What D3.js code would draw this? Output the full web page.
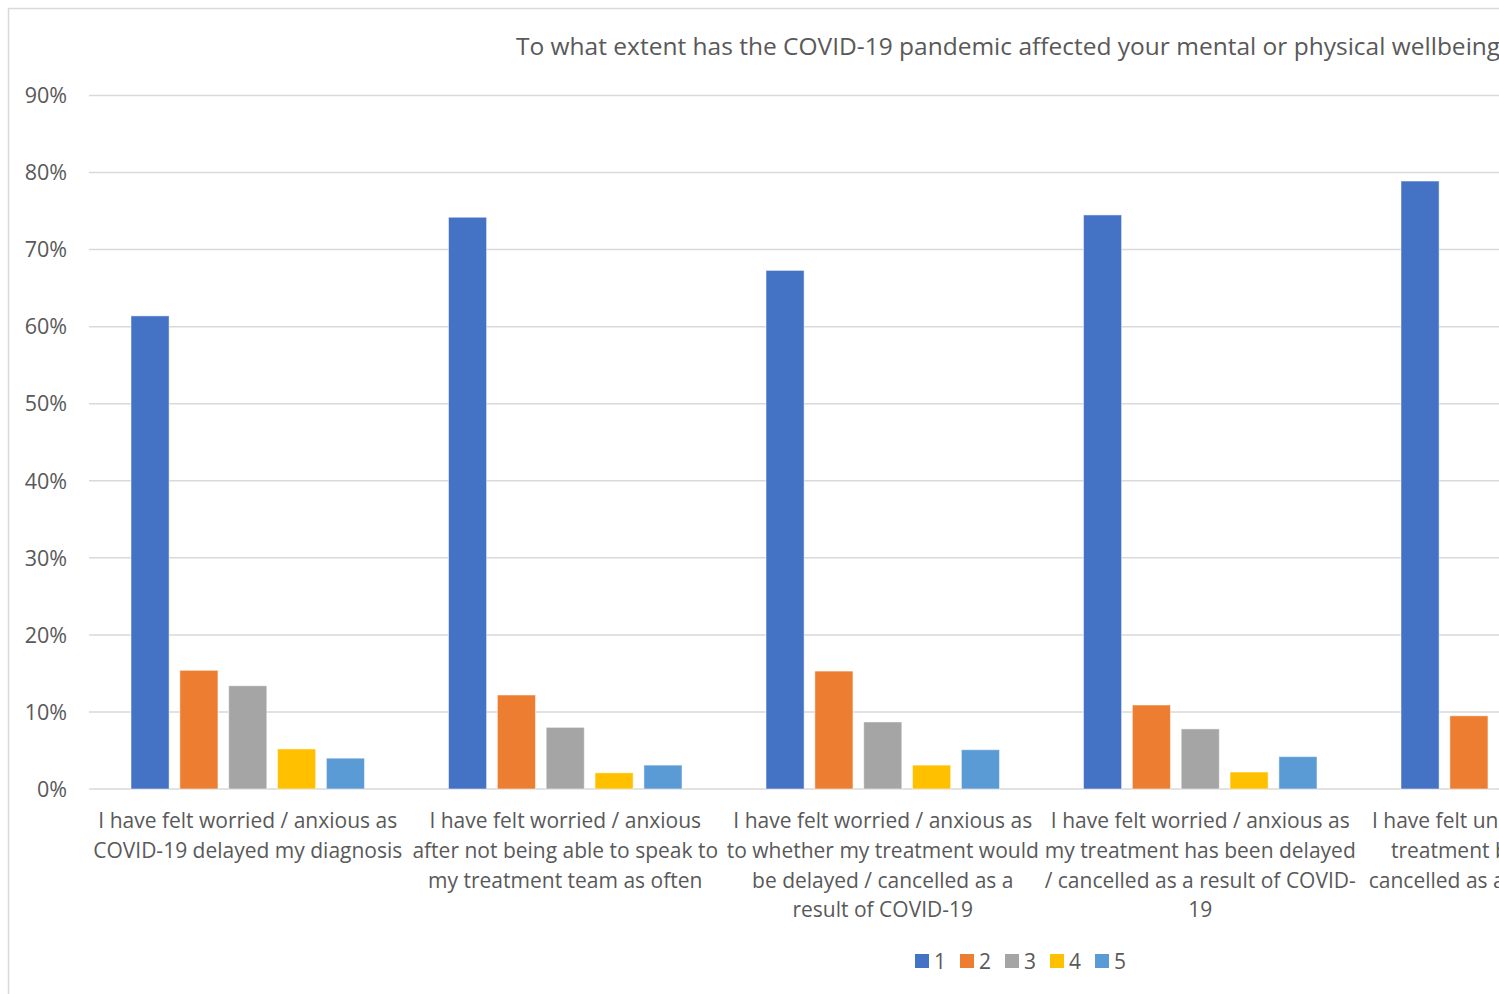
<!DOCTYPE html>
<html>
<head>
<meta charset="utf-8">
<script src="https://cdn.jsdelivr.net/npm/d3@7"></script>
<style>
  body { margin: 0; background: #fff; }
  text { font-family: "Open Sans", "Noto Sans", sans-serif; fill: #595959; }
</style>
</head>
<body>
<div id="chart"></div>
<script>
// Data
var categories = ["c1", "c2", "c3", "c4", "c5"];
var categoryLines = [
    ["I have felt worried / anxious as", "COVID-19 delayed my diagnosis"],
    ["I have felt worried / anxious", "after not being able to speak to", "my treatment team as often"],
    ["I have felt worried / anxious as", "to whether my treatment would", "be delayed / cancelled as a", "result of COVID-19"],
    ["I have felt worried / anxious as", "my treatment has been delayed", "/ cancelled as a result of COVID-", "19"],
    ["I have felt unsettled about my", "treatment being delayed /", "cancelled as a result of COVID-", "19"]
];
var seriesNames = ["1", "2", "3", "4", "5"];
var seriesColors = ["#4472C4", "#ED7D31", "#A5A5A5", "#FFC000", "#5B9BD5"];
// one array per rating, in category order (last category partly off the picture)
var rating1 = [0.614, 0.742, 0.673, 0.745, 0.789];
var rating2 = [0.154, 0.122, 0.153, 0.109, 0.095];
var rating3 = [0.134, 0.080, 0.087, 0.078, null];
var rating4 = [0.052, 0.021, 0.031, 0.022, null];
var rating5 = [0.040, 0.031, 0.051, 0.042, null];
var yTicks = [0, 0.1, 0.2, 0.3, 0.4, 0.5, 0.6, 0.7, 0.8, 0.9];
var title = "To what extent has the COVID-19 pandemic affected your mental or physical wellbeing?";

let width = 1499;
let height = 994;
let allSeries = [rating1, rating2, rating3, rating4, rating5];

let svg = d3.select("#chart").append("svg")
    .attr("width", width)
    .attr("height", height);

// chart frame (runs off the right and bottom of the picture)
svg.append("rect")
    .attr("x", 8.5)
    .attr("y", 8.5)
    .attr("width", 2000)
    .attr("height", 2000)
    .attr("fill", "none")
    .attr("stroke", "#d9d9d9")
    .attr("stroke-width", 1.5);

let bandW = 317.5;
let x = d3.scaleBand().domain(categories).range([89, 89 + bandW * categories.length]);
let xInner = d3.scaleBand().domain(seriesNames).range([42, bandW - 42]).paddingInner(0.22);
let y = d3.scaleLinear().domain([0, 0.9]).range([789, 95.5]);

// gridlines + y labels
let grid = svg.append("g");
grid.selectAll("line")
    .data(yTicks)
    .enter().append("line")
    .attr("x1", 89)
    .attr("x2", width)
    .attr("y1", d => y(d))
    .attr("y2", d => y(d))
    .attr("stroke", "#d9d9d9")
    .attr("stroke-width", 1.5);

grid.selectAll("text")
    .data(yTicks)
    .enter().append("text")
    .attr("x", 67)
    .attr("y", d => y(d))
    .attr("dy", "0.36em")
    .attr("text-anchor", "end")
    .style("font-size", "21.5px")
    .text(d3.format(".0%"));

// bars
let groups = svg.append("g").selectAll("g")
    .data(categories)
    .enter().append("g")
    .attr("transform", d => "translate(" + x(d) + ",0)");

groups.selectAll("rect")
    .data((c, i) => seriesNames.map((s, j) => ({ s: s, v: allSeries[j][i], color: seriesColors[j] })).filter(d => d.v != null))
    .enter().append("rect")
    .attr("x", d => xInner(d.s))
    .attr("y", d => y(d.v))
    .attr("width", xInner.bandwidth())
    .attr("height", d => y(0) - y(d.v))
    .attr("fill", d => d.color)
    .attr("stroke", "#ffffff")
    .attr("stroke-opacity", 0.5)
    .attr("stroke-width", 1);

// category labels
groups.append("text")
    .attr("text-anchor", "middle")
    .style("font-size", "21px")
    .selectAll("tspan")
    .data((c, i) => categoryLines[i])
    .enter().append("tspan")
    .attr("x", bandW / 2)
    .attr("y", (d, i) => 828 + i * 29.8)
    .text(d => d);

// title
svg.append("text")
    .attr("x", 516)
    .attr("y", 55)
    .style("font-size", "24.5px")
    .text(title);

// legend
let legend = svg.append("g").selectAll("g")
    .data(seriesNames)
    .enter().append("g")
    .attr("transform", (d, i) => "translate(" + (915 + i * 45) + ",954)");

legend.append("rect")
    .attr("width", 14)
    .attr("height", 14)
    .attr("fill", (d, i) => seriesColors[i]);

legend.append("text")
    .attr("x", 19)
    .attr("y", 15)
    .style("font-size", "21px")
    .text(d => d);
</script>
</body>
</html>
